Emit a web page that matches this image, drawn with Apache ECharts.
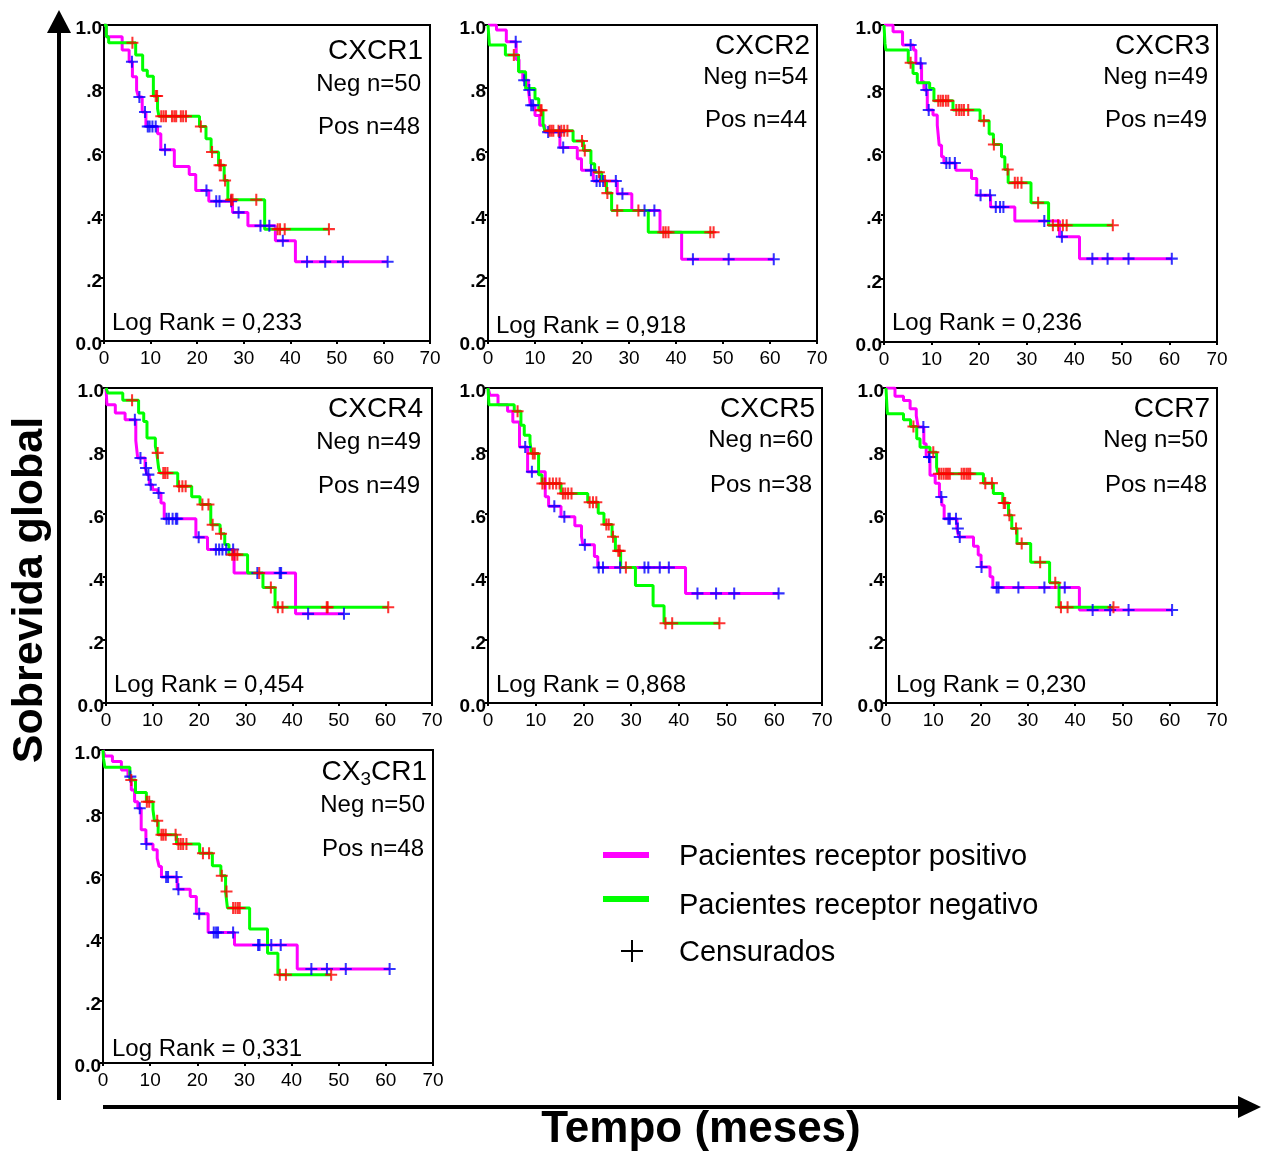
<!DOCTYPE html>
<html>
<head>
<meta charset="utf-8">
<script src="https://cdn.jsdelivr.net/npm/echarts/dist/echarts.min.js"></script>
<style>
  html, body { margin: 0; padding: 0; background: #ffffff; }
  #chart { width: 1264px; height: 1151px; }
</style>
</head>
<body>
<div id="chart"></div>
<script>
// ---- panel information ----
const panelNames = ['CXCR1', 'CXCR2', 'CXCR3', 'CXCR4', 'CXCR5', 'CCR7', 'CX3CR1'];
const negCounts = [50, 54, 49, 49, 60, 50, 50];
const posCounts = [48, 44, 49, 49, 38, 48, 48];
const logRankP = ['0,233', '0,918', '0,236', '0,454', '0,868', '0,230', '0,331'];
const monthTicks = [0, 10, 20, 30, 40, 50, 60, 70];
const survTicks = [0, 0.2, 0.4, 0.6, 0.8, 1.0];
const survTickLabels = ['0.0', '.2', '.4', '.6', '.8', '1.0'];

// ---- Kaplan-Meier curves: event times (months), survival after each event, censored times ----
// CXCR1
const cxcr1PosTime = [0, 0.5, 3.9, 5.4, 6.1, 7.0, 7.4, 8.2, 9.0, 11.5, 12.2, 15.1, 18.3, 19.7, 22.5, 27.6, 30.9, 36.8, 41.1];
const cxcr1PosSurv = [1, 0.963, 0.921, 0.884, 0.836, 0.794, 0.772, 0.725, 0.679, 0.656, 0.605, 0.552, 0.527, 0.476, 0.442, 0.407, 0.365, 0.317, 0.251];
const cxcr1PosCens = [6.0, 7.6, 8.8, 9.4, 9.8, 10.4, 11.1, 13.1, 22.0, 24.1, 24.8, 27.3, 28.9, 33.6, 35.5, 38.4, 43.6, 47.5, 51.3, 60.9];
const cxcr1NegTime = [0, 0.5, 1.0, 6.8, 8.3, 9.3, 10.6, 11.5, 11.8, 20.5, 21.9, 23.0, 24.6, 25.8, 26.6, 34.5];
const cxcr1NegSurv = [1, 0.963, 0.944, 0.905, 0.857, 0.838, 0.775, 0.735, 0.711, 0.679, 0.64, 0.598, 0.556, 0.508, 0.447, 0.354];
const cxcr1NegCens = [6.1, 11.1, 11.4, 12.3, 12.8, 13.3, 14.6, 15.1, 15.5, 16.5, 17.0, 17.6, 20.8, 23.2, 24.8, 25.1, 26.0, 27.3, 27.6, 32.7, 37.3, 37.8, 38.8, 48.3];
// CXCR2
const cxcr2PosTime = [0, 1.8, 3.9, 6.0, 6.6, 7.4, 8.6, 9.0, 10.0, 11.0, 12.1, 15.3, 19.0, 19.9, 22.4, 27.5, 30.6, 36.6, 41.2];
const cxcr2PosSurv = [1, 0.984, 0.947, 0.891, 0.852, 0.825, 0.794, 0.746, 0.714, 0.683, 0.661, 0.612, 0.577, 0.54, 0.506, 0.466, 0.413, 0.344, 0.259];
const cxcr2PosCens = [5.9, 7.7, 8.8, 9.2, 9.6, 12.8, 15.2, 16.0, 21.9, 23.1, 23.8, 24.5, 27.2, 28.6, 33.3, 35.4, 43.6, 51.2, 60.8];
const cxcr2NegTime = [0, 0.3, 3.7, 6.5, 8.0, 10.0, 10.8, 11.7, 12.1, 18.1, 20.3, 21.9, 22.7, 24.2, 25.2, 26.3, 34.1];
const cxcr2NegSurv = [1, 0.937, 0.905, 0.852, 0.799, 0.767, 0.73, 0.688, 0.665, 0.633, 0.603, 0.561, 0.534, 0.506, 0.468, 0.413, 0.344];
const cxcr2NegCens = [5.5, 11.2, 11.4, 13.1, 13.5, 13.9, 15.0, 15.6, 16.2, 16.9, 20.0, 20.6, 23.6, 24.9, 25.4, 27.5, 32.0, 37.3, 37.8, 38.4, 47.3, 48.0];
// CXCR3
const cxcr3PosTime = [0, 1.9, 3.9, 6.2, 6.7, 7.9, 8.4, 9.1, 10.3, 11.2, 11.6, 12.1, 12.6, 15.1, 18.4, 19.5, 22.4, 27.5, 36.9, 41.1];
const cxcr3PosSurv = [1, 0.979, 0.937, 0.921, 0.879, 0.821, 0.795, 0.732, 0.716, 0.684, 0.621, 0.584, 0.565, 0.542, 0.516, 0.463, 0.426, 0.382, 0.332, 0.263];
const cxcr3PosCens = [5.6, 7.7, 8.9, 9.4, 13.1, 13.8, 14.9, 20.3, 22.3, 23.5, 24.4, 25.1, 33.7, 37.4, 43.8, 47.0, 51.4, 60.5];
const cxcr3NegTime = [0, 0.2, 0.4, 5.1, 6.1, 7.0, 9.6, 10.5, 14.5, 20.2, 22.1, 23.0, 24.7, 25.4, 26.1, 30.9, 34.6];
const cxcr3NegSurv = [1, 0.942, 0.921, 0.881, 0.847, 0.818, 0.8, 0.761, 0.732, 0.698, 0.656, 0.623, 0.584, 0.544, 0.502, 0.439, 0.368];
const cxcr3NegCens = [5.6, 11.4, 11.9, 12.4, 13.0, 13.5, 15.2, 15.8, 16.3, 16.8, 17.7, 21.0, 23.1, 26.0, 27.5, 28.1, 28.9, 32.4, 35.5, 36.6, 37.6, 38.4, 48.1];
// CXCR4
const cxcr4PosTime = [0, 0.2, 2.0, 4.1, 6.4, 6.8, 8.4, 8.8, 9.3, 10.0, 11.1, 11.8, 12.5, 19.3, 21.8, 27.5, 40.7];
const cxcr4PosSurv = [1, 0.947, 0.921, 0.899, 0.833, 0.778, 0.746, 0.725, 0.693, 0.677, 0.667, 0.635, 0.585, 0.526, 0.487, 0.413, 0.283];
const cxcr4PosCens = [6.2, 7.4, 8.6, 9.1, 9.6, 11.3, 13.0, 13.5, 14.3, 15.0, 15.3, 19.9, 23.6, 24.3, 25.0, 25.8, 27.3, 32.5, 37.3, 37.6, 43.4, 51.1];
const cxcr4NegTime = [0, 0.4, 3.6, 7.0, 8.1, 8.8, 10.6, 10.9, 11.3, 11.6, 15.4, 18.4, 20.2, 22.5, 24.5, 25.5, 26.4, 30.4, 33.7, 36.3];
const cxcr4NegSurv = [1, 0.984, 0.961, 0.921, 0.894, 0.841, 0.815, 0.794, 0.746, 0.73, 0.688, 0.655, 0.63, 0.566, 0.537, 0.503, 0.471, 0.413, 0.367, 0.304];
const cxcr4NegCens = [5.6, 11.1, 12.3, 12.7, 13.2, 15.7, 16.4, 17.1, 20.7, 22.0, 22.9, 24.7, 27.1, 27.6, 28.2, 32.9, 35.4, 36.9, 37.9, 47.4, 47.6, 60.6];
// CXCR5
const cxcr5PosTime = [0, 0.4, 2.1, 4.1, 5.2, 6.6, 8.3, 12.0, 12.7, 15.3, 18.2, 19.6, 19.9, 22.3, 23.0, 41.4];
const cxcr5PosSurv = [1, 0.977, 0.947, 0.926, 0.892, 0.813, 0.734, 0.655, 0.625, 0.591, 0.563, 0.528, 0.502, 0.465, 0.43, 0.348];
const cxcr5PosCens = [7.8, 9.2, 13.9, 16.0, 20.3, 23.2, 24.1, 27.7, 32.8, 33.6, 36.0, 37.9, 43.9, 47.8, 51.6, 60.9];
const cxcr5NegTime = [0, 0.2, 5.5, 6.9, 7.6, 8.8, 9.1, 10.6, 11.3, 15.3, 20.9, 23.1, 24.3, 26.0, 26.7, 27.8, 30.9, 34.6, 36.9];
const cxcr5NegSurv = [1, 0.947, 0.926, 0.882, 0.85, 0.829, 0.792, 0.725, 0.697, 0.665, 0.637, 0.602, 0.567, 0.528, 0.483, 0.43, 0.373, 0.309, 0.253];
const cxcr5NegCens = [6.2, 9.4, 9.8, 11.4, 11.9, 12.9, 13.6, 14.3, 15.0, 15.7, 16.2, 16.8, 17.5, 21.3, 22.0, 22.7, 24.8, 25.3, 26.2, 27.3, 27.6, 28.9, 37.2, 38.6, 48.5];
// CCR7
const ccr7PosTime = [0, 1.9, 3.7, 5.1, 6.4, 6.8, 8.0, 8.5, 9.3, 10.4, 11.3, 11.8, 12.3, 15.0, 15.4, 18.5, 19.5, 20.1, 22.0, 22.6, 40.9];
const ccr7PosSurv = [1, 0.974, 0.96, 0.934, 0.912, 0.876, 0.823, 0.781, 0.723, 0.698, 0.654, 0.628, 0.585, 0.554, 0.527, 0.498, 0.47, 0.432, 0.401, 0.367, 0.295];
const ccr7PosCens = [7.9, 9.1, 9.2, 11.7, 13.2, 13.5, 14.8, 15.2, 15.6, 20.2, 23.4, 23.8, 28.0, 33.5, 37.8, 43.7, 47.4, 51.3, 60.5];
const ccr7NegTime = [0, 0.2, 0.3, 3.7, 5.2, 6.5, 7.2, 9.3, 10.7, 11.0, 20.6, 22.7, 24.7, 25.9, 26.6, 27.7, 30.6, 34.6, 36.6];
const ccr7NegSurv = [1, 0.94, 0.918, 0.899, 0.878, 0.839, 0.812, 0.796, 0.749, 0.728, 0.698, 0.665, 0.635, 0.596, 0.554, 0.506, 0.447, 0.382, 0.304];
const ccr7NegCens = [5.8, 10.0, 11.2, 11.7, 12.2, 12.7, 13.1, 13.5, 16.0, 16.5, 17.0, 17.4, 17.8, 21.0, 22.4, 24.9, 25.2, 26.1, 27.5, 28.7, 32.6, 35.8, 37.0, 38.4, 48.1];
// CX3CR1
const cx3cr1PosTime = [0, 0.4, 2.0, 3.9, 5.3, 6.0, 6.7, 7.4, 8.1, 9.1, 10.6, 11.5, 11.9, 12.4, 15.75, 18.5, 19.8, 22.3, 27.9, 41.2];
const cx3cr1PosSurv = [1, 0.981, 0.963, 0.936, 0.915, 0.872, 0.835, 0.814, 0.745, 0.7, 0.681, 0.654, 0.628, 0.594, 0.555, 0.532, 0.477, 0.417, 0.377, 0.3];
const cx3cr1PosCens = [5.8, 7.8, 9.2, 13.4, 13.8, 15.6, 16.0, 20.4, 23.5, 24.0, 24.4, 27.6, 32.9, 33.2, 35.7, 37.7, 44.2, 47.5, 51.5, 60.8];
const cx3cr1NegTime = [0, 0.1, 0.4, 5.7, 6.9, 9.2, 10.6, 10.9, 11.7, 15.6, 20.5, 23.2, 25.0, 26.0, 26.4, 31.1, 34.9, 37.1];
const cx3cr1NegSurv = [1, 0.973, 0.945, 0.904, 0.864, 0.835, 0.809, 0.774, 0.729, 0.7, 0.67, 0.63, 0.598, 0.548, 0.495, 0.428, 0.351, 0.282];
const cx3cr1NegCens = [6.0, 9.3, 9.8, 11.5, 12.4, 12.8, 13.3, 15.4, 16.0, 16.5, 17.0, 17.7, 21.2, 22.5, 25.2, 26.2, 27.6, 28.1, 28.6, 29.0, 37.5, 38.8, 48.4];

const curves = [
  { pos: [cxcr1PosTime, cxcr1PosSurv, cxcr1PosCens], neg: [cxcr1NegTime, cxcr1NegSurv, cxcr1NegCens] },
  { pos: [cxcr2PosTime, cxcr2PosSurv, cxcr2PosCens], neg: [cxcr2NegTime, cxcr2NegSurv, cxcr2NegCens] },
  { pos: [cxcr3PosTime, cxcr3PosSurv, cxcr3PosCens], neg: [cxcr3NegTime, cxcr3NegSurv, cxcr3NegCens] },
  { pos: [cxcr4PosTime, cxcr4PosSurv, cxcr4PosCens], neg: [cxcr4NegTime, cxcr4NegSurv, cxcr4NegCens] },
  { pos: [cxcr5PosTime, cxcr5PosSurv, cxcr5PosCens], neg: [cxcr5NegTime, cxcr5NegSurv, cxcr5NegCens] },
  { pos: [ccr7PosTime, ccr7PosSurv, ccr7PosCens], neg: [ccr7NegTime, ccr7NegSurv, ccr7NegCens] },
  { pos: [cx3cr1PosTime, cx3cr1PosSurv, cx3cr1PosCens], neg: [cx3cr1NegTime, cx3cr1NegSurv, cx3cr1NegCens] }
];

// ---- layout: plot box of each panel and anchors for its annotations (px) ----
const panelLayout = [
  { left: 104, top: 25,  width: 326, height: 316, titleX: 423,  titleY: 51,  negY: 84,  posY: 127, logX: 112, logY: 323 },
  { left: 488, top: 25,  width: 329, height: 316, titleX: 810,  titleY: 46,  negY: 77,  posY: 120, logX: 496, logY: 326 },
  { left: 884, top: 25,  width: 333, height: 317, titleX: 1210, titleY: 46,  negY: 77,  posY: 120, logX: 892, logY: 323 },
  { left: 106, top: 388, width: 326, height: 315, titleX: 423,  titleY: 409, negY: 442, posY: 486, logX: 114, logY: 685 },
  { left: 488, top: 388, width: 334, height: 315, titleX: 815,  titleY: 409, negY: 440, posY: 485, logX: 496, logY: 685 },
  { left: 886, top: 388, width: 331, height: 315, titleX: 1210, titleY: 409, negY: 440, posY: 485, logX: 896, logY: 685 },
  { left: 103, top: 750, width: 330, height: 313, titleX: 427,  titleY: 772, negY: 805, posY: 849, logX: 112, logY: 1049 }
];

const FONT = '"Liberation Sans", Arial, Helvetica, sans-serif';
const POS_COLOR = '#ff00ff';
const NEG_COLOR = '#00ff00';
const POS_CENS = '#0000ff';
const NEG_CENS = '#ff0000';
const PLUS = 'path://M-1,-0.17L-0.17,-0.17L-0.17,-1L0.17,-1L0.17,-0.17L1,-0.17L1,0.17L0.17,0.17L0.17,1L-0.17,1L-0.17,0.17L-1,0.17Z';

function stepData(T, S, C) {
  const end = Math.max(T[T.length - 1], C.length ? C[C.length - 1] : 0);
  const d = T.map((t, i) => [t, S[i]]);
  d.push([end, S[S.length - 1]]);
  return d;
}
function survAt(T, S, x) {
  let v = S[0];
  for (let i = 0; i < T.length; i++) { if (T[i] <= x) v = S[i]; }
  return v;
}

const grids = [], xAxes = [], yAxes = [], series = [], graphics = [];

panelLayout.forEach((b, i) => {
  grids.push({
    left: b.left, top: b.top, width: b.width, height: b.height,
    show: true, borderColor: '#000', borderWidth: 2, backgroundColor: 'transparent'
  });
  xAxes.push({
    gridIndex: i, type: 'value', min: monthTicks[0], max: monthTicks[monthTicks.length - 1], interval: 10,
    axisLine: { show: false },
    axisTick: { show: true, length: 3, lineStyle: { color: '#000', width: 2 } },
    splitLine: { show: false },
    axisLabel: { color: '#000', fontSize: 19, fontFamily: FONT, margin: 8 }
  });
  yAxes.push({
    gridIndex: i, type: 'value', min: survTicks[0], max: survTicks[survTicks.length - 1], interval: 0.2,
    axisLine: { show: false },
    axisTick: { show: true, length: 3, lineStyle: { color: '#000', width: 2 } },
    splitLine: { show: false },
    axisLabel: {
      color: '#000', fontSize: 19, fontWeight: 'bold', fontFamily: FONT, margin: 2,
      verticalAlign: 'top', lineHeight: 8,
      formatter: v => survTickLabels[survTicks.findIndex(t => Math.abs(t - v) < 1e-6)]
    }
  });

  const c = curves[i];
  const groups = [
    { d: c.pos, line: POS_COLOR, cens: POS_CENS, name: 'Pacientes receptor positivo' },
    { d: c.neg, line: NEG_COLOR, cens: NEG_CENS, name: 'Pacientes receptor negativo' }
  ];
  groups.forEach(g => {
    const [T, S, C] = g.d;
    series.push({
      name: g.name, type: 'line', step: 'end', xAxisIndex: i, yAxisIndex: i,
      data: stepData(T, S, C), showSymbol: false, silent: true,
      lineStyle: { color: g.line, width: 3 }, z: 3
    });
  });
  groups.forEach(g => {
    const [T, S, C] = g.d;
    series.push({
      name: 'Censurados', type: 'scatter', xAxisIndex: i, yAxisIndex: i,
      data: C.map(t => [t, survAt(T, S, t)]),
      symbol: PLUS, symbolSize: 12, silent: true,
      itemStyle: { color: g.cens }, z: 4
    });
  });

  // panel annotations
  const titleText = panelNames[i] === 'CX3CR1'
    ? { text: '{m|CX}{s|3}{m|CR1}', rich: { m: { fontSize: 28, fontFamily: FONT, fill: '#000' }, s: { fontSize: 19, fontFamily: FONT, fill: '#000', padding: [16, 0, 0, 0] } } }
    : { text: panelNames[i] };
  graphics.push({
    type: 'text', x: b.titleX, y: b.titleY, z: 10,
    style: Object.assign({ fontSize: 28, fontFamily: FONT, fill: '#000', align: 'right', verticalAlign: 'middle' }, titleText)
  });
  graphics.push({
    type: 'text', x: b.titleX - 2, y: b.negY, z: 10,
    style: { text: 'Neg n=' + negCounts[i], fontSize: 24, fontFamily: FONT, fill: '#000', align: 'right', verticalAlign: 'middle' }
  });
  graphics.push({
    type: 'text', x: b.titleX - 3, y: b.posY, z: 10,
    style: { text: 'Pos n=' + posCounts[i], fontSize: 24, fontFamily: FONT, fill: '#000', align: 'right', verticalAlign: 'middle' }
  });
  graphics.push({
    type: 'text', x: b.logX, y: b.logY, z: 10,
    style: { text: 'Log Rank = ' + logRankP[i], fontSize: 24, fontFamily: FONT, fill: '#000', align: 'left', verticalAlign: 'middle' }
  });
});

// outer axes arrows and titles
graphics.push(
  { type: 'line', shape: { x1: 59, y1: 1100, x2: 59, y2: 30 }, style: { stroke: '#000', lineWidth: 4 } },
  { type: 'polygon', shape: { points: [[59, 10], [47, 33], [71, 33]] }, style: { fill: '#000' } },
  { type: 'line', shape: { x1: 103, y1: 1107, x2: 1240, y2: 1107 }, style: { stroke: '#000', lineWidth: 4 } },
  { type: 'polygon', shape: { points: [[1261, 1107], [1238, 1096], [1238, 1118]] }, style: { fill: '#000' } },
  { type: 'text', x: 30, y: 590, rotation: Math.PI / 2,
    style: { text: 'Sobrevida global', fontSize: 43, fontWeight: 'bold', fontFamily: FONT, fill: '#000', align: 'center', verticalAlign: 'middle' } },
  { type: 'text', x: 701, y: 1130,
    style: { text: 'Tempo (meses)', fontSize: 44, fontWeight: 'bold', fontFamily: FONT, fill: '#000', align: 'center', verticalAlign: 'middle' } }
);

// key
graphics.push(
  { type: 'line', shape: { x1: 603, y1: 855, x2: 649, y2: 855 }, style: { stroke: POS_COLOR, lineWidth: 6 } },
  { type: 'line', shape: { x1: 603, y1: 899, x2: 649, y2: 899 }, style: { stroke: NEG_COLOR, lineWidth: 6 } },
  { type: 'line', shape: { x1: 621, y1: 951, x2: 643, y2: 951 }, style: { stroke: '#000', lineWidth: 2 } },
  { type: 'line', shape: { x1: 632, y1: 940, x2: 632, y2: 962 }, style: { stroke: '#000', lineWidth: 2 } },
  { type: 'text', x: 679, y: 857, style: { text: 'Pacientes receptor positivo', fontSize: 29, fontFamily: FONT, fill: '#000', align: 'left', verticalAlign: 'middle' } },
  { type: 'text', x: 679, y: 906, style: { text: 'Pacientes receptor negativo', fontSize: 29, fontFamily: FONT, fill: '#000', align: 'left', verticalAlign: 'middle' } },
  { type: 'text', x: 679, y: 953, style: { text: 'Censurados', fontSize: 29, fontFamily: FONT, fill: '#000', align: 'left', verticalAlign: 'middle' } }
);

const chart = echarts.init(document.getElementById('chart'), null, { renderer: 'canvas' });
chart.setOption({
  animation: false,
  backgroundColor: '#ffffff',
  grid: grids,
  xAxis: xAxes,
  yAxis: yAxes,
  series: series,
  graphic: graphics
});
</script>
</body>
</html>
